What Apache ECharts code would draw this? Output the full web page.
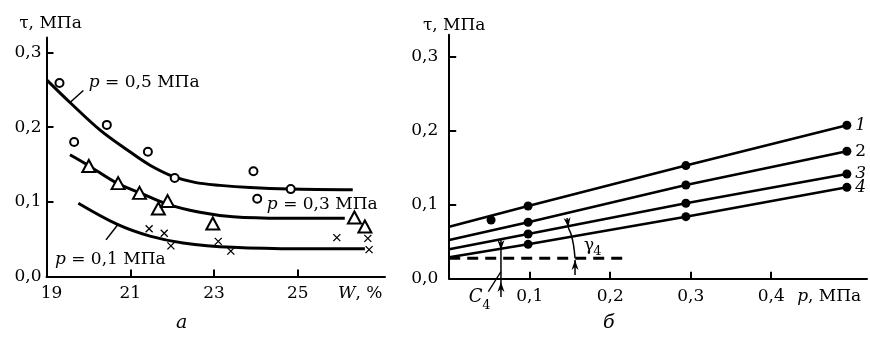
<!DOCTYPE html>
<html>
<head>
<meta charset="utf-8">
<script src="https://cdn.jsdelivr.net/npm/echarts@6/dist/echarts.min.js"></script>
<style>
html,body{margin:0;padding:0;background:#fff;}
#chart{width:870px;height:343px;}
</style>
</head>
<body>
<div id="chart"></div>
<script>
// ---------- Panel а : τ vs W ----------
const wTicks = [21, 23, 25];
const tauTicks = [0, 0.1, 0.2, 0.3];
// p = 0,5 MPa : measured points (circles)
const circW = [19.31, 19.66, 20.44, 21.42, 22.06, 23.94, 24.03, 24.83];
const circT = [0.259, 0.180, 0.203, 0.167, 0.132, 0.141, 0.104, 0.117];
// p = 0,3 MPa : measured points (triangles)
const triW = [20.01, 20.71, 21.22, 21.67, 21.89, 22.97, 26.35, 26.60];
const triT = [0.148, 0.125, 0.112, 0.091, 0.101, 0.071, 0.079, 0.067];
// p = 0,1 MPa : measured points (crosses)
const crossW = [21.45, 21.81, 21.97, 23.10, 23.40, 25.93, 26.67, 26.70];
const crossT = [0.064, 0.058, 0.041, 0.047, 0.034, 0.052, 0.051, 0.036];
// fitted curves
const fit05W = [19.01, 19.58, 20.28, 20.99, 21.47, 22.02, 22.54, 23.14, 23.86, 24.81, 26.31];
const fit05T = [0.263, 0.232, 0.196, 0.167, 0.149, 0.134, 0.126, 0.122, 0.119, 0.117, 0.116];
const fit03W = [19.56, 19.99, 20.68, 21.23, 21.88, 22.66, 23.45, 24.64, 26.12];
const fit03T = [0.163, 0.149, 0.125, 0.112, 0.097, 0.086, 0.080, 0.078, 0.078];
const fit01W = [19.76, 20.68, 21.47, 22.26, 23.45, 25.05, 26.60];
const fit01T = [0.098, 0.070, 0.054, 0.045, 0.039, 0.037, 0.037];
const labelsA = ['p = 0,5 МПа', 'p = 0,3 МПа', 'p = 0,1 МПа'];

// ---------- Panel б : τ vs p ----------
const pTicks = [0.1, 0.2, 0.3, 0.4];
const pLine = [0, 0.098, 0.294, 0.494];
const line1 = [0.0703, 0.0983, 0.153, 0.2075];
const line2 = [0.0523, 0.0763, 0.1267, 0.1723];
const line3 = [0.0398, 0.0605, 0.102, 0.1416];
const line4 = [0.029, 0.0465, 0.0839, 0.1236];
const lineNames = ['1', '2', '3', '4'];
const extraDot = [0.052, 0.0794];
const c4Level = 0.0276;       // dashed line level C4
const dashEndP = 0.222;

const FONT = '"DejaVu Serif", serif';
const fmt = v => v.toFixed(1).replace('.', ',');
const zip = (a, b) => a.map((v, i) => [v, b[i]]);

const axisCommon = {
  axisLine: { onZero: false, lineStyle: { color: '#000', width: 2 } },
  splitLine: { show: false },
};
const tickStyle = { show: true, inside: true, length: 7, lineStyle: { color: '#000', width: 2 } };
const labelStyle = { color: '#000', fontFamily: FONT, fontSize: 17 };

function arrowHead(tip, from, len, wid) {
  const dx = tip[0] - from[0], dy = tip[1] - from[1];
  const d = Math.hypot(dx, dy) || 1;
  const ux = dx / d, uy = dy / d;
  const bx = tip[0] - ux * len, by = tip[1] - uy * len;
  const nx = -uy * wid / 2, ny = ux * wid / 2;
  const mx = tip[0] - ux * len * 0.7, my = tip[1] - uy * len * 0.7;
  return { type: 'polygon', shape: { points: [tip, [bx + nx, by + ny], [mx, my], [bx - nx, by - ny]] }, style: { fill: '#000' } };
}
function seg(a, b, w) {
  return { type: 'line', shape: { x1: a[0], y1: a[1], x2: b[0], y2: b[1] }, style: { stroke: '#000', lineWidth: w || 1.5 } };
}
function txt(pt, text, size, opts) {
  return { type: 'text', x: pt[0], y: pt[1], style: Object.assign({ text: text, fontFamily: FONT, fontSize: size, fill: '#000', align: 'left', verticalAlign: 'middle' }, opts || {}) };
}

// annotation anchor positions (data coordinates)
const leaderA = [[[19.56, 0.233], [19.88, 0.249]], [[20.42, 0.049], [20.71, 0.070]]];
const textPosA = [[20.01, 0.259], [24.26, 0.096], [19.20, 0.022]];

const c4P = 0.0643;
const arcPts = [[0.1464, 0.0821], [0.148, 0.0695], [0.1513, 0.0605], [0.1544, 0.0456], [0.1563, 0.0276]];

const curveStyle = { color: '#000', width: 3 };
const op = { opacity: 1 };

const option = {
  animation: false,
  backgroundColor: '#fff',
  title: [
    { text: 'а', left: 176, top: 314, padding: 0, textStyle: { fontFamily: FONT, fontStyle: 'italic', fontWeight: 'normal', fontSize: 19, color: '#000' } },
    { text: 'б', left: 603, top: 314, padding: 0, textStyle: { fontFamily: FONT, fontStyle: 'italic', fontWeight: 'normal', fontSize: 19, color: '#000' } }
  ],
  grid: [
    { left: 46.5, top: 37.5, width: 338.5, height: 239 },
    { left: 449.2, top: 34.7, width: 417.8, height: 244 }
  ],
  xAxis: [
    Object.assign({}, axisCommon, {
      gridIndex: 0, type: 'value', min: 19, max: 27.08,
      axisTick: Object.assign({ customValues: wTicks }, tickStyle),
      axisLabel: Object.assign({}, labelStyle, {
        margin: 9,
        customValues: [19.12].concat(wTicks, [26.49]),
        formatter: v => v > 26 ? '{i|W}, %' : String(Math.round(v)),
        rich: { i: { fontStyle: 'italic', fontFamily: FONT, fontSize: 17, color: '#000' } }
      })
    }),
    Object.assign({}, axisCommon, {
      gridIndex: 1, type: 'value', min: 0, max: 0.519,
      axisTick: Object.assign({ customValues: pTicks }, tickStyle),
      axisLabel: Object.assign({}, labelStyle, {
        margin: 9,
        customValues: pTicks.concat([0.472]),
        formatter: v => v > 0.45 ? '{i|p}, МПа' : fmt(v),
        rich: { i: { fontStyle: 'italic', fontFamily: FONT, fontSize: 17, color: '#000' } }
      })
    })
  ],
  yAxis: [
    Object.assign({}, axisCommon, {
      gridIndex: 0, type: 'value', min: 0, max: 0.32,
      name: 'τ, МПа', nameLocation: 'end', nameGap: 5,
      nameTextStyle: { fontFamily: FONT, fontSize: 17, color: '#000', align: 'center', padding: [0, 0, 0, 8] },
      axisTick: Object.assign({ customValues: tauTicks.slice(1) }, tickStyle),
      axisLabel: Object.assign({}, labelStyle, { margin: 5, customValues: tauTicks, formatter: fmt })
    }),
    Object.assign({}, axisCommon, {
      gridIndex: 1, type: 'value', min: 0, max: 0.33,
      name: 'τ, МПа', nameLocation: 'end', nameGap: 1,
      nameTextStyle: { fontFamily: FONT, fontSize: 17, color: '#000', align: 'center', padding: [0, 0, 0, 10] },
      axisTick: Object.assign({ customValues: tauTicks.slice(1) }, tickStyle),
      axisLabel: Object.assign({}, labelStyle, { margin: 11, customValues: tauTicks, formatter: fmt })
    })
  ],
  series: [
    // fitted curves (panel а)
    { type: 'line', xAxisIndex: 0, yAxisIndex: 0, data: zip(fit05W, fit05T), smooth: 0.35, showSymbol: false, lineStyle: curveStyle, z: 2 },
    { type: 'line', xAxisIndex: 0, yAxisIndex: 0, data: zip(fit03W, fit03T), smooth: 0.35, showSymbol: false, lineStyle: curveStyle, z: 2 },
    { type: 'line', xAxisIndex: 0, yAxisIndex: 0, data: zip(fit01W, fit01T), smooth: 0.35, showSymbol: false, lineStyle: curveStyle, z: 2 },
    // measured points (panel а)
    { type: 'scatter', xAxisIndex: 0, yAxisIndex: 0, data: zip(circW, circT), symbol: 'circle', symbolSize: 8, itemStyle: Object.assign({ color: '#fff', borderColor: '#000', borderWidth: 2 }, op), z: 3 },
    { type: 'scatter', xAxisIndex: 0, yAxisIndex: 0, data: zip(triW, triT), symbol: 'triangle', symbolSize: [13, 12], itemStyle: Object.assign({ color: '#fff', borderColor: '#000', borderWidth: 2 }, op), z: 3 },
    { type: 'scatter', xAxisIndex: 0, yAxisIndex: 0, data: zip(crossW, crossT), symbol: 'path://M0,0L10,10M10,0L0,10', symbolSize: 7, itemStyle: Object.assign({ color: 'none', borderColor: '#000', borderWidth: 1.3 }, op), z: 3 },
    // annotations (panel а)
    {
      type: 'custom', xAxisIndex: 0, yAxisIndex: 0, data: [[19, 0]], z: 5, silent: true,
      renderItem: function (params, api) {
        const c = p => api.coord(p);
        const ch = [];
        leaderA.forEach(l => ch.push(seg(c(l[0]), c(l[1]), 1.5)));
        labelsA.forEach((t, i) => {
          ch.push(txt(c(textPosA[i]), '{i|p}' + t.slice(1), 17, { rich: { i: { fontStyle: 'italic', fontFamily: FONT, fontSize: 17 } } }));
        });
        return { type: 'group', children: ch };
      }
    },
    // straight lines (panel б)
    ...[line1, line2, line3, line4].map(l => ({
      type: 'line', xAxisIndex: 1, yAxisIndex: 1, data: zip(pLine, l), showSymbol: false, lineStyle: { color: '#000', width: 2.5 }, z: 2
    })),
    // measured dots (panel б)
    ...[line1, line2, line3, line4].map((l, k) => ({
      type: 'scatter', xAxisIndex: 1, yAxisIndex: 1, symbol: 'circle', symbolSize: 9, itemStyle: { color: '#000', opacity: 1 }, z: 3,
      data: pLine.slice(1).map((p, i) => i === 2 ? {
        value: [p, l[i + 1]],
        label: { show: true, position: 'right', distance: 4, formatter: lineNames[k], fontFamily: FONT, fontSize: 17, fontStyle: k === 1 ? 'normal' : 'italic', color: '#000' }
      } : [p, l[i + 1]])
    })),
    { type: 'scatter', xAxisIndex: 1, yAxisIndex: 1, symbol: 'circle', symbolSize: 9, itemStyle: { color: '#000', opacity: 1 }, data: [extraDot], z: 3 },
    // dashed C4 level
    { type: 'line', xAxisIndex: 1, yAxisIndex: 1, data: [[0, c4Level], [dashEndP, c4Level]], showSymbol: false, lineStyle: { color: '#000', width: 3, type: [11, 7] }, z: 2 },
    // annotations (panel б)
    {
      type: 'custom', xAxisIndex: 1, yAxisIndex: 1, data: [[0, 0]], z: 5, silent: true,
      renderItem: function (params, api) {
        const c = p => api.coord(p);
        const ch = [];
        // C4 dimension line with arrows
        ch.push(seg(c([c4P, 0.0523]), c([c4P, -0.0247]), 1.5));
        ch.push(arrowHead(c([c4P, 0.0388]), c([c4P, 0.0523]), 10, 7));
        ch.push(arrowHead(c([c4P, -0.0045]), c([c4P, -0.0247]), 10, 7));
        ch.push(seg(c([0.0486, -0.0176]), c([c4P, 0.0095]), 1.3));
        // gamma arc with arrows
        ch.push({ type: 'polyline', shape: { points: arcPts.map(c), smooth: 0.4 }, style: { stroke: '#000', lineWidth: 1.5, fill: null } });
        ch.push(arrowHead(c(arcPts[1]), c(arcPts[0]), 10, 7));
        ch.push(seg(c([0.1563, 0.005]), c([0.1563, 0.0253]), 1.5));
        ch.push(arrowHead(c([0.1563, 0.0253]), c([0.1563, 0.005]), 10, 7));
        // texts
        ch.push(txt(c([0.0327, -0.0248]), 'C', 18, { fontStyle: 'italic', align: 'center' }));
        ch.push(txt(c([0.0463, -0.0370]), '4', 13, { align: 'center' }));
        ch.push(txt(c([0.1737, 0.0442]), 'γ', 17, { align: 'center' }));
        ch.push(txt(c([0.184, 0.0371]), '4', 13, { align: 'center' }));
        return { type: 'group', children: ch };
      }
    }
  ]
};

const chart = echarts.init(document.getElementById('chart'), null, { renderer: 'canvas' });
chart.setOption(option);
</script>
</body>
</html>
